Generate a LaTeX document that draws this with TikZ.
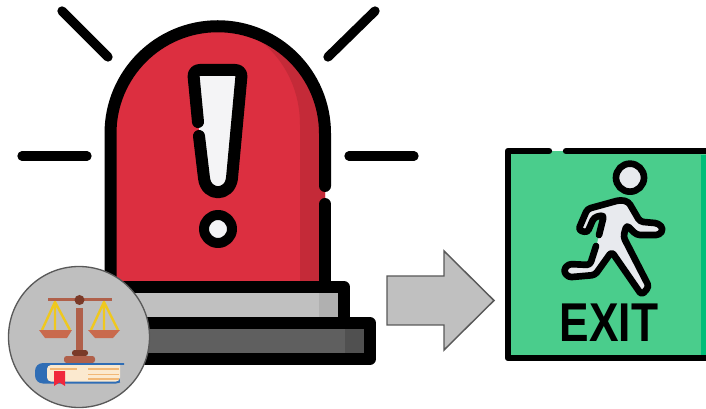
\documentclass[tikz,border=0pt]{standalone}
\usepackage{fontspec}
\setmainfont{Liberation Sans}
\definecolor{sirenred}{HTML}{DC2F40}
\definecolor{sirendark}{HTML}{C42A38}
\definecolor{tierlight}{HTML}{C0C0C0}
\definecolor{tierlightdark}{HTML}{B0B0B0}
\definecolor{tierdark}{HTML}{5F5F5F}
\definecolor{tierdarker}{HTML}{505050}
\definecolor{glass}{HTML}{F4F4F6}
\definecolor{exitgreen}{HTML}{4ACD8C}
\definecolor{exitdark}{HTML}{00BE78}
\definecolor{figurefill}{HTML}{E8EAEE}
\definecolor{wood}{HTML}{B0604A}
\definecolor{wooddark}{HTML}{7A3A28}
\definecolor{pan}{HTML}{C96A4D}
\definecolor{rope}{HTML}{EFC81E}
\definecolor{cover}{HTML}{2F6DB5}
\definecolor{page}{HTML}{FBE9CF}
\definecolor{pageline}{HTML}{F2B877}
\definecolor{ribbon}{HTML}{F0283C}
\begin{document}
\begin{tikzpicture}[
    x=0.75pt, y=-0.75pt,
    % Style definitions
    outline/.style={draw=black, line width=9pt, line cap=round, line join=round},
    ray/.style={draw=black, line width=7pt, line cap=round},
    tier/.style={draw=black, line width=9pt, line join=round},
    runner/.style={draw=black, line width=5pt, line cap=round, line join=round},
    rope line/.style={draw=rope, line width=1.8pt},
    pageline/.style={draw=pageline, line width=1.2pt},
]
\useasboundingbox (0,0) rectangle (706,409);

% Rays
\draw[ray] (62,11) -- (108,57);
\draw[ray] (375,11) -- (328,57);
\draw[ray] (22,156) -- (87,156);
\draw[ray] (349,156) -- (414,156);

% Dome
\fill[sirenred] (110.5,281) -- (110.5,133.5) arc[start angle=180, end angle=360, radius=107.25] -- (325,281) -- cycle;
\fill[sirendark] (240,28) .. controls (275,45) and (300,80) .. (300,125) -- (300,281) -- (325,281) -- (325,133) .. controls (325,80) and (285,40) .. (240,28) -- cycle;
\draw[outline] (325,186) -- (325,133.5) arc[start angle=0, end angle=-180, radius=107.25] -- (110.5,281);
\draw[outline] (325,204) -- (325,281);

% Exclamation mark
\fill[glass, rounded corners=4pt] (193,70) -- (242,70) -- (232,178) .. controls (230,197) and (206,197) .. (204,178) -- cycle;
\draw[outline, rounded corners=5pt] (198,122) -- (193,70) -- (242,70) -- (232,178);
\draw[outline] (232,178) .. controls (230,197) and (206,197) .. (204,178) -- (199,136);
\draw[outline, fill=glass, line width=7.5pt] (218,229) circle[radius=14];

% Base
\filldraw[tier, fill=tierlight] (86,287) rectangle (344,323);
\fill[tierlightdark] (319,293) rectangle (338,317);
\filldraw[tier, fill=tierdark] (60,323) rectangle (370,359);
\fill[tierdarker] (345,329) rectangle (364,353);

% Badge
\filldraw[draw=black!65, fill=black!25, line width=1pt] (79,337) circle[radius=70.5];
\draw[rope line] (42,330) -- (55,302) -- (70,330) (55,302) -- (55,330);
\draw[rope line] (91,330) -- (104,302) -- (118,330) (104,302) -- (104,330);
\fill[wood] (48,298) rectangle (112,301);
\fill[pan] (39,330) -- (72,330) -- (67,338) -- (45,338) -- cycle;
\fill[pan] (88,330) -- (120,330) -- (113,338) -- (95,338) -- cycle;
\fill[wood] (76,308) rectangle (83,350);
\fill[wooddark] (79.5,300) circle[radius=5];
\fill[wooddark, rounded corners=2pt] (72,356) -- (72,350) -- (88,350) -- (88,356) -- cycle;
\fill[wood, rounded corners=2pt] (64,363) -- (64,356) -- (95,356) -- (95,363) -- cycle;
\fill[cover, rounded corners=6pt] (124,363) -- (35,363) -- (35,383.5) -- (124,383.5) [sharp corners] -- cycle;
\fill[black!25] (120,365) rectangle (125,381.5);
\fill[page, rounded corners=3pt] (120,365) -- (47,365) -- (47,381.5) -- (120,381.5) [sharp corners] -- cycle;
\draw[pageline] (50,369) -- (77,369) (88,369) -- (119,369) (88,374.5) -- (119,374.5) (88,379) -- (119,379);
\fill[ribbon] (54,371) -- (65,371) -- (65,386) -- (59.5,382.5) -- (54,386) -- cycle;

% Block arrow
\filldraw[draw=black!65, fill=tierlight, line width=1.1pt] (387,276) -- (444,276) -- (444,251) -- (494,300.5) -- (444,350) -- (444,325) -- (387,325) -- cycle;

% Exit sign
\fill[exitgreen] (508,151) rectangle (706,358);
\fill[exitdark] (701,155) rectangle (706,355);
\draw[outline, line width=4.75pt] (706,358) -- (508,358) -- (508,151) -- (549,151);
\draw[outline, line width=4.75pt] (566,151) -- (706,151);

\begin{scope}[shift={(500,140)}, x=0.25pt, y=-0.25pt]
\draw[runner, fill=figurefill] (390,113) circle[radius=42];
\fill[figurefill, rounded corners=2.5pt] (360,180) -- (262,207) -- (235,270) -- (262,278) -- (282,232) -- (312,225) -- (290,315) -- (270,375) -- (205,372) -- (190,392) -- (205,412) -- (285,405) -- (335,335) -- (425,465) -- (447,440) -- (370,290) -- (380,255) -- (410,285) -- (478,285) -- (490,267) -- (475,250) -- (420,245) -- (385,185) -- cycle;
\draw[runner, rounded corners=2.5pt] (297,285) -- (312,225) -- (282,232) -- (262,278) -- (235,270) -- (262,207) -- (360,180) -- (385,185) -- (420,245) -- (475,250) -- (490,267) -- (478,285) -- (410,285) -- (380,255) -- (370,290) -- (447,440) -- (425,465) -- (335,335) -- (285,405) -- (205,412) -- (190,392) -- (205,372) -- (270,375) -- (288,318);
\end{scope}
\node[font=\bfseries\fontsize{41}{41}\selectfont, xscale=0.81, transform shape, inner sep=0pt] (exit) at (609,322.5) {EXIT};

\end{tikzpicture}
\end{document}
